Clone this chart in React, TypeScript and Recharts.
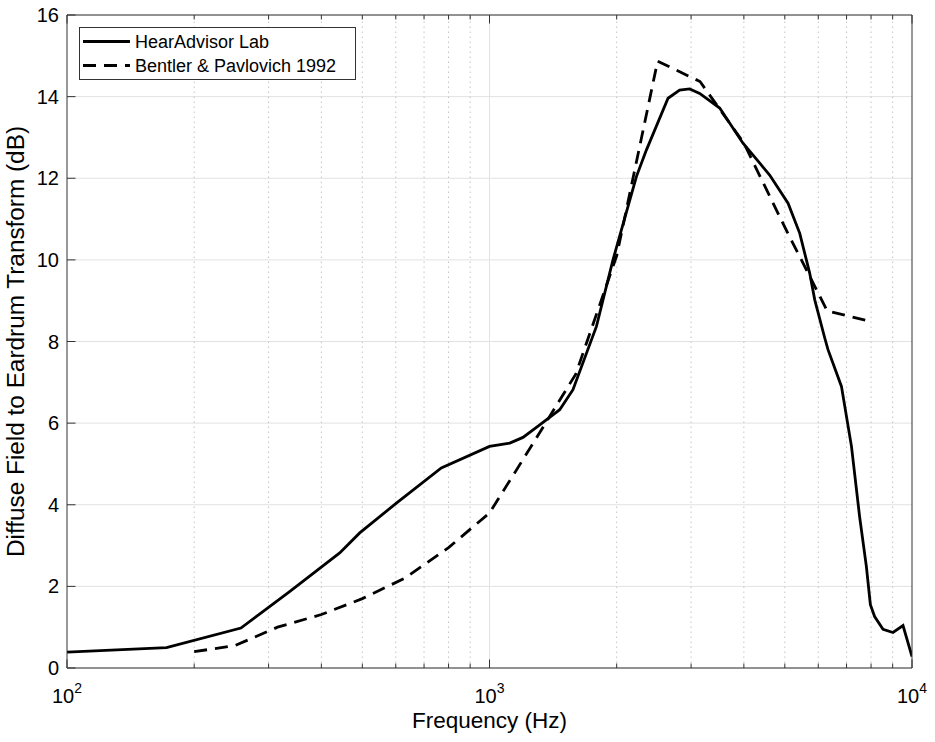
import React from 'react';
import { LineChart, Line, XAxis, YAxis, CartesianGrid, ReferenceLine, Legend } from 'recharts';

const FONT = '"Liberation Sans", Arial, Helvetica, sans-serif';
const AXIS = '#333333';

// HearAdvisor Lab (solid)
const hearFreq = [100, 172, 258, 337, 442, 493, 602, 769, 1000, 1117, 1200, 1315, 1466, 1576, 1791, 1960, 2227, 2351, 2646, 2818, 2977, 3144, 3506, 3981, 4362, 4603, 5089, 5424, 5727, 5886, 6218, 6327, 6808, 7190, 7516, 7798, 7971, 8157, 8540, 9016, 9522, 10000];
const hearValue = [0.39, 0.5, 0.98, 1.88, 2.82, 3.31, 4.04, 4.9, 5.43, 5.51, 5.65, 5.96, 6.33, 6.82, 8.37, 10.0, 12.04, 12.69, 13.96, 14.16, 14.19, 14.08, 13.72, 12.86, 12.37, 12.08, 11.39, 10.65, 9.67, 9.02, 8.08, 7.8, 6.9, 5.43, 3.71, 2.49, 1.55, 1.26, 0.95, 0.87, 1.04, 0.28];

// Bentler & Pavlovich 1992 (dashed)
const bentlerFreq = [200, 250, 315, 400, 500, 630, 800, 1000, 1250, 1600, 2000, 2500, 3150, 4000, 5000, 6300, 8000];
const bentlerValue = [0.4, 0.55, 1.0, 1.31, 1.7, 2.2, 2.95, 3.8, 5.4, 7.2, 10.1, 14.87, 14.37, 12.86, 10.8, 8.75, 8.49];

const majorFreqTicks = [100, 1000, 10000];
const minorFreqTicks = [200, 300, 400, 500, 600, 700, 800, 900, 2000, 3000, 4000, 5000, 6000, 7000, 8000, 9000];
const allFreqTicks = [...majorFreqTicks, ...minorFreqTicks].sort((a, b) => a - b);
const yTicks = [0, 2, 4, 6, 8, 10, 12, 14, 16];
const seriesNames = ['HearAdvisor Lab', 'Bentler & Pavlovich 1992'];
const seriesDash = ['', '13 8'];
const xTitle = 'Frequency (Hz)';
const yTitle = 'Diffuse Field to Eardrum Transform (dB)';

const hearData = hearFreq.map((f, i) => ({ f, v: hearValue[i] }));
const bentlerData = bentlerFreq.map((f, i) => ({ f, v: bentlerValue[i] }));

const BottomTick = (props: any) => {
  const { x, y, payload } = props;
  const v = payload.value;
  const major = majorFreqTicks.includes(v);
  return (
    <g>
      <line x1={x} x2={x} y1={y} y2={y - (major ? 8.5 : 4.5)} stroke={AXIS} strokeWidth={1} />
      {major && (
        <text x={x} y={y + 35} textAnchor="middle" fontFamily={FONT} fontSize={20} fill="#000">
          <tspan>10</tspan>
          <tspan dy={-10} fontSize={14}>{Math.round(Math.log10(v))}</tspan>
        </text>
      )}
    </g>
  );
};

const TopTick = (props: any) => {
  const { x, y, payload } = props;
  const major = majorFreqTicks.includes(payload.value);
  return <line x1={x} x2={x} y1={y} y2={y + (major ? 8.5 : 4.5)} stroke={AXIS} strokeWidth={1} />;
};

const LeftTick = (props: any) => {
  const { x, y, payload } = props;
  return (
    <g>
      <line x1={x} x2={x + 8.5} y1={y} y2={y} stroke={AXIS} strokeWidth={1} />
      <text x={x - 8} y={y + 7} textAnchor="end" fontFamily={FONT} fontSize={20} fill="#000">
        {payload.value}
      </text>
    </g>
  );
};

const RightTick = (props: any) => {
  const { x, y } = props;
  return <line x1={x} x2={x - 8.5} y1={y} y2={y} stroke={AXIS} strokeWidth={1} />;
};

const XLabel = (props: any) => {
  const vb = props.viewBox || { x: 67, width: 845 };
  const cx = vb.x + vb.width / 2;
  return (
    <text x={cx} y={728} textAnchor="middle" fontFamily={FONT} fontSize={22.5} fill="#000">
      {xTitle}
    </text>
  );
};

const YLabel = (props: any) => {
  const vb = props.viewBox || { y: 15, height: 653 };
  const cx = 24;
  const cy = vb.y + vb.height / 2;
  return (
    <text x={cx} y={cy} transform={`rotate(-90 ${cx} ${cy})`} textAnchor="middle" fontFamily={FONT} fontSize={23} fill="#000" textLength={431} lengthAdjust="spacingAndGlyphs">
      {yTitle}
    </text>
  );
};

const LegendBox = () => (
  <svg width={277} height={53} style={{ display: 'block' }}>
    <rect x={0.5} y={0.5} width={276} height={52} fill="#fff" stroke={AXIS} strokeWidth={1} />
    {seriesNames.map((name, i) => {
      const cy = 14.5 + i * 24;
      return (
        <g key={name}>
          <line x1={4} x2={51} y1={cy} y2={cy} stroke="#000" strokeWidth={2.8} strokeDasharray={seriesDash[i] || undefined} />
          <text x={56} y={cy + 6.5} fontFamily={FONT} fontSize={18} fill="#000">
            {name}
          </text>
        </g>
      );
    })}
  </svg>
);

export default function App() {
  return (
    <div>
      <style>{`body{margin:0;background:#fff}`}</style>
      <LineChart width={935} height={742} margin={{ top: 14, right: 22, bottom: 0, left: 0 }}>
        <CartesianGrid vertical={false} stroke="#e2e2e2" strokeWidth={1} />
        {minorFreqTicks.map((f) => (
          <ReferenceLine key={`m${f}`} x={f} stroke="#c4c4c4" strokeWidth={1} strokeDasharray="1.5 3.5" />
        ))}
        <ReferenceLine x={1000} stroke="#e2e2e2" strokeWidth={1} />
        <XAxis
          dataKey="f"
          type="number"
          scale="log"
          domain={[100, 10000]}
          allowDataOverflow
          ticks={allFreqTicks}
          interval={0}
          tickSize={0}
          tickMargin={0}
          height={74}
          tick={<BottomTick />}
          axisLine={{ stroke: AXIS, strokeWidth: 1 }}
          label={<XLabel />}
        />
        <XAxis
          xAxisId="top"
          orientation="top"
          dataKey="f"
          type="number"
          scale="log"
          domain={[100, 10000]}
          allowDataOverflow
          ticks={allFreqTicks}
          interval={0}
          tickSize={0}
          tickMargin={0}
          height={1}
          tick={<TopTick />}
          axisLine={{ stroke: AXIS, strokeWidth: 1 }}
        />
        <YAxis
          type="number"
          domain={[0, 16]}
          ticks={yTicks}
          interval={0}
          tickSize={0}
          tickMargin={0}
          width={67}
          tick={<LeftTick />}
          axisLine={{ stroke: AXIS, strokeWidth: 1 }}
          label={<YLabel />}
        />
        <YAxis
          yAxisId="right"
          orientation="right"
          type="number"
          domain={[0, 16]}
          ticks={yTicks}
          interval={0}
          tickSize={0}
          tickMargin={0}
          width={1}
          tick={<RightTick />}
          axisLine={{ stroke: AXIS, strokeWidth: 1 }}
        />
        <Line
          data={hearData}
          dataKey="v"
          name={seriesNames[0]}
          type="linear"
          stroke="#000"
          strokeWidth={2.8}
          dot={false}
          activeDot={false}
          isAnimationActive={false}
        />
        <Line
          data={bentlerData}
          dataKey="v"
          name={seriesNames[1]}
          type="linear"
          stroke="#000"
          strokeWidth={2.8}
          strokeDasharray={seriesDash[1]}
          dot={false}
          activeDot={false}
          isAnimationActive={false}
        />
        <Legend
          layout="vertical"
          align="center"
          verticalAlign="middle"
          content={<LegendBox />}
          wrapperStyle={{ position: 'absolute', left: 79, top: 27, width: 'auto', height: 'auto', margin: 0, padding: 0 }}
        />
      </LineChart>
    </div>
  );
}
